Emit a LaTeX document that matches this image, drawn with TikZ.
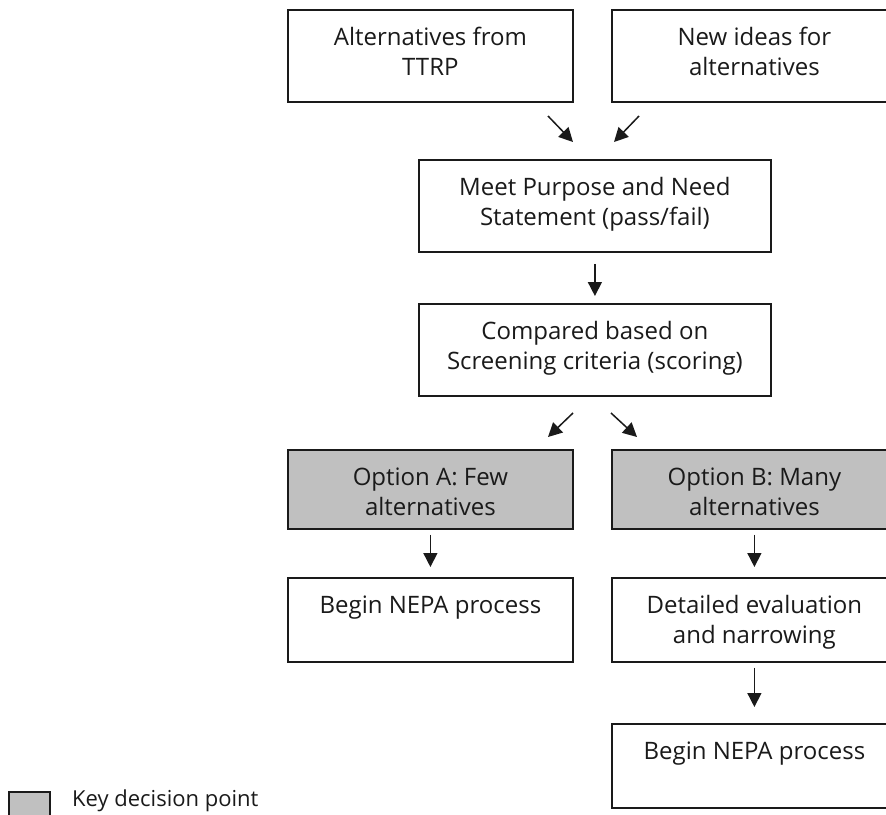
\documentclass[tikz,border=0pt]{standalone}
\usepackage{fontspec}
\setmainfont{Open Sans}
\usetikzlibrary{arrows.meta}
\definecolor{keygray}{RGB}{192,192,192}
\definecolor{ink}{RGB}{26,26,26}
\newcommand{\btext}[3]{\parbox[c][#2][t]{#1}{\centering\vspace*{15pt}\strut #3\par}}
\tikzset{
  base/.style={draw=ink, line width=1.8pt, inner sep=0pt, anchor=north west,
    font=\fontsize{24}{30}\selectfont, text=ink},
  wbox/.style={base, fill=white},
  gbox/.style={base, fill=keygray},
  arr/.style={-{Triangle[length=14pt,width=14pt]}, line width=1.5pt, draw=ink, fill=ink}
}
\begin{document}
\begin{tikzpicture}[x=1pt,y=-1pt]
\useasboundingbox (0,0) rectangle (886,814);
\clip (0,0) rectangle (886,814);
% boxes
\node[wbox] (b1) at (287,9)   {\btext{285pt}{92pt}{Alternatives from\\TTRP}};
\node[wbox] (b2) at (611,9)   {\btext{285pt}{92pt}{New ideas for\\alternatives}};
\node[wbox] (b3) at (418,159) {\btext{352pt}{92pt}{Meet Purpose and Need\\Statement (pass/fail)}};
\node[wbox] (b4) at (418,303) {\btext{352pt}{92pt}{Compared based on\\Screening criteria (scoring)}};
\node[gbox] (bA) at (287,449) {\btext{285pt}{79pt}{Option A: Few\\alternatives}};
\node[gbox] (bB) at (611,449) {\btext{285pt}{79pt}{Option B: Many\\alternatives}};
\node[wbox] (nA) at (287,577) {\btext{285pt}{84pt}{Begin NEPA process}};
\node[wbox] (dB) at (611,577) {\btext{285pt}{84pt}{Detailed evaluation\\and narrowing}};
\node[wbox] (nB) at (611,723) {\btext{285pt}{84pt}{Begin NEPA process}};
% legend
\node[gbox] (key) at (8,791) {\parbox[c][30pt][t]{41pt}{\mbox{}}};
\node[anchor=base west, inner sep=0pt, font=\fontsize{22}{26}\selectfont, text=ink] (keytxt) at (72,806) {Key decision point};
% arrow end points
\coordinate (t1s) at (548,116); \coordinate (t1e) at (573,142);
\coordinate (t2s) at (639,116); \coordinate (t2e) at (614,142);
\coordinate (m1s) at (573,413); \coordinate (m1e) at (548,437);
\coordinate (m2s) at (611,413); \coordinate (m2e) at (637,437);
% connectors
\draw[arr] (t1s) -- (t1e);
\draw[arr] (t2s) -- (t2e);
\draw[arr, shorten <=11pt, shorten >=7pt] (b3.south) -- (b4.north);
\draw[arr] (m1s) -- (m1e);
\draw[arr] (m2s) -- (m2e);
\draw[arr, shorten <=5pt, shorten >=10pt] (bA.south) -- (nA.north);
\draw[arr, shorten <=5pt, shorten >=10pt] (bB.south) -- (dB.north);
\draw[arr, shorten <=5pt, shorten >=16pt] (dB.south) -- (nB.north);
\end{tikzpicture}
\end{document}
